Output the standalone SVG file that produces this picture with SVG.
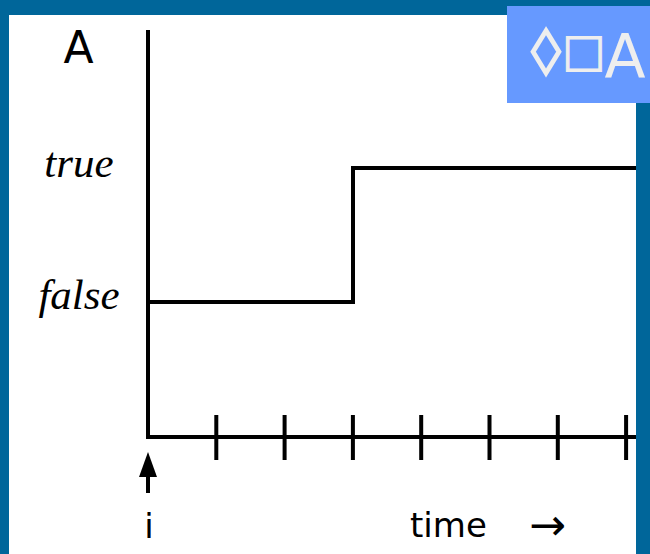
<svg xmlns="http://www.w3.org/2000/svg" width="650" height="554" viewBox="0 0 650 554">
<style>
.ln{stroke:#000;stroke-width:4;fill:none}
.sans{font-family:"DejaVu Sans","Liberation Sans",sans-serif;fill:#000}
.badge{font-family:"DejaVu Sans","Liberation Sans",sans-serif;fill:#eeeeee;text-anchor:middle}
.ital{font-family:"Liberation Serif",serif;font-style:italic;font-size:43px;fill:#000}
</style>
<rect x="0" y="0" width="650" height="554" fill="#00669a"/>
<rect x="9" y="15" width="627" height="539" fill="#ffffff"/>
<g id="badge">
<rect x="507" y="6" width="143" height="97" fill="#6699ff"/>
<text x="0" y="65" class="badge" transform="translate(546,0) scale(1.3,1)" style="font-size:46px;stroke:#eeeeee;stroke-width:1.5">◊</text>
<text x="584" y="66" class="badge" style="font-size:46px;stroke:#eeeeee;stroke-width:1">□</text>
<text x="625" y="77" class="badge" style="font-size:60px">A</text>
</g>
<g id="labels">
<text x="78.5" y="63" class="sans" text-anchor="middle" style="font-size:44px">A</text>
<text x="79" y="177" class="ital" text-anchor="middle">true</text>
<text x="79" y="309" class="ital" text-anchor="middle">false</text>
<text x="149" y="538" class="sans" text-anchor="middle" style="font-size:34px">i</text>
<text x="410" y="537" class="sans" style="font-size:34px">time</text>
<text x="529" y="540" class="sans" style="font-size:44px">→</text>
</g>
<g id="connectors">
<path class="ln" d="M148,30 V437 H636"/>
<path class="ln" d="M148,302 H353 V168 H636"/>
<path class="ln" d="M216.3,415 V460 M284.6,415 V460 M352.9,415 V460 M421.2,415 V460 M489.5,415 V460 M557.8,415 V460 M626.1,415 V460"/>
<path class="ln" d="M148,474 V493"/>
<polygon points="148,452 157,477 139,477" fill="#000"/>
</g>
</svg>
